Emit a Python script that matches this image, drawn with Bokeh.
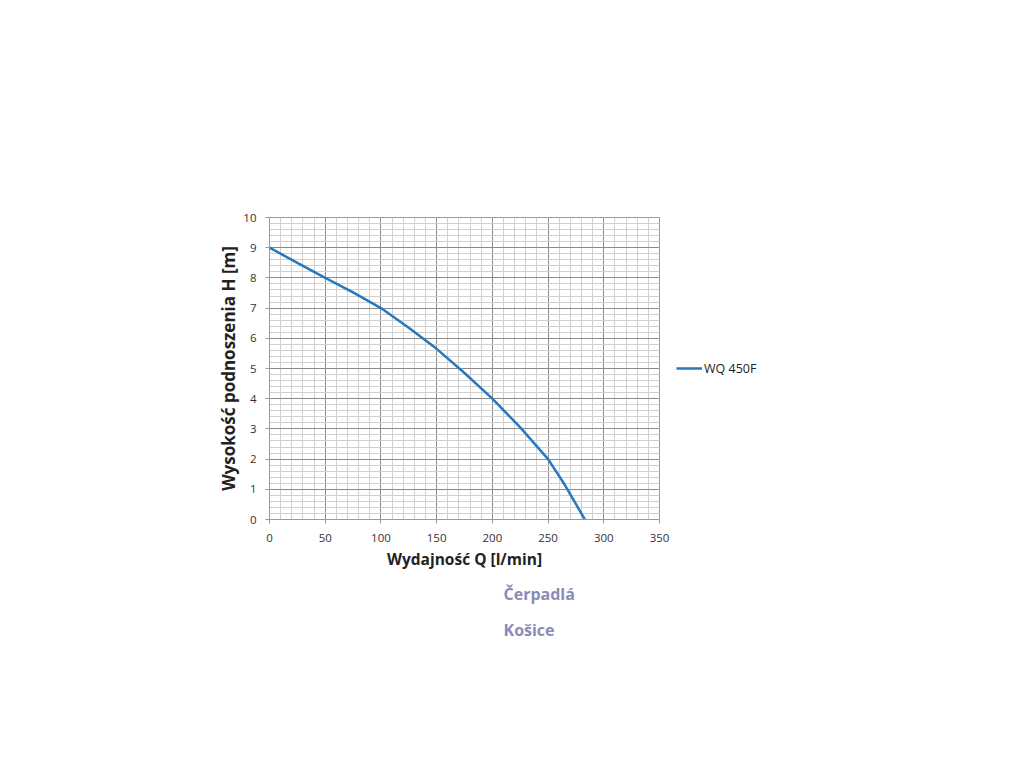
from bokeh.plotting import figure
from bokeh.models import Range1d, FixedTicker, Legend, LegendItem, Title
from bokeh.embed import file_html
from bokeh.resources import INLINE

# data
flow_q = [0, 25, 50, 75, 100, 125, 150, 175, 200, 225, 250, 265, 283]
head_h = [9.0, 8.5, 8.0, 7.52, 7.0, 6.35, 5.65, 4.85, 4.0, 3.05, 2.0, 1.15, 0.0]
series_name = "WQ 450F"
x_ticks = [0, 50, 100, 150, 200, 250, 300, 350]
y_ticks = [0, 1, 2, 3, 4, 5, 6, 7, 8, 9, 10]
logo_lines = ["Čerpadlá", "Košice"]

FONT = "Open Sans"

p = figure(frame_width=390, frame_height=302, output_backend="svg",
           toolbar_location=None,
           x_range=Range1d(0, 350), y_range=Range1d(0, 10),
           min_border_left=269, min_border_right=20,
           min_border_top=217, min_border_bottom=0)
p.background_fill_color = "white"
p.border_fill_color = "white"
p.outline_line_color = "#9a9a9a"

for ax in (p.xaxis[0], p.yaxis[0]):
    ax.axis_line_color = "#9a9a9a"
    ax.major_tick_line_color = "#9a9a9a"
    ax.major_tick_in = 0
    ax.major_tick_out = 4
    ax.minor_tick_line_color = None
    ax.major_label_text_font = FONT
    ax.major_label_text_font_size = "11.5px"
    ax.major_label_text_color = "#333333"
    ax.axis_label_text_font = FONT
    ax.axis_label_text_font_style = "bold"
    ax.axis_label_text_color = "#222222"
p.xaxis.axis_label_text_font_size = "15.5px"
p.yaxis.axis_label_text_font_size = "17px"

p.xaxis.ticker = FixedTicker(ticks=x_ticks, minor_ticks=list(range(0, 351, 10)))
p.yaxis.ticker = FixedTicker(ticks=y_ticks, minor_ticks=[i / 5 for i in range(0, 51)])
p.xaxis.axis_label = "Wydajność Q [l/min]"
p.yaxis.axis_label = "Wysokość podnoszenia H [m]"
p.xaxis.major_label_standoff = 10
p.yaxis.major_label_standoff = 9
p.xaxis.axis_label_standoff = 3
p.yaxis.axis_label_standoff = 0

p.xgrid.grid_line_color = "#8c8c8c"
p.ygrid.grid_line_color = "#8c8c8c"
p.xgrid.minor_grid_line_color = "#d0d0d0"
p.ygrid.minor_grid_line_color = "#d0d0d0"

r = p.line(flow_q, head_h, line_color="#2878bd", line_width=2.5)

legend = Legend(items=[LegendItem(label=series_name, renderers=[r])],
                location="left", background_fill_alpha=0, border_line_color=None,
                label_text_font=FONT, label_text_font_size="12.5px",
                label_text_color="#222222", glyph_width=26, label_standoff=2,
                padding=0, margin=17)
p.add_layout(legend, "right")

# logo name below the chart
p.add_layout(Title(text=logo_lines[0], align="left", offset=234, standoff=16,
                   text_font=FONT, text_font_size="16px", text_font_style="bold",
                   text_color="#8b8bb8"), "below")
p.add_layout(Title(text=logo_lines[1], align="left", offset=234, standoff=8,
                   text_font=FONT, text_font_size="16px", text_font_style="bold",
                   text_color="#8b8bb8"), "below")

open("out.html", "w").write(file_html(p, INLINE))
